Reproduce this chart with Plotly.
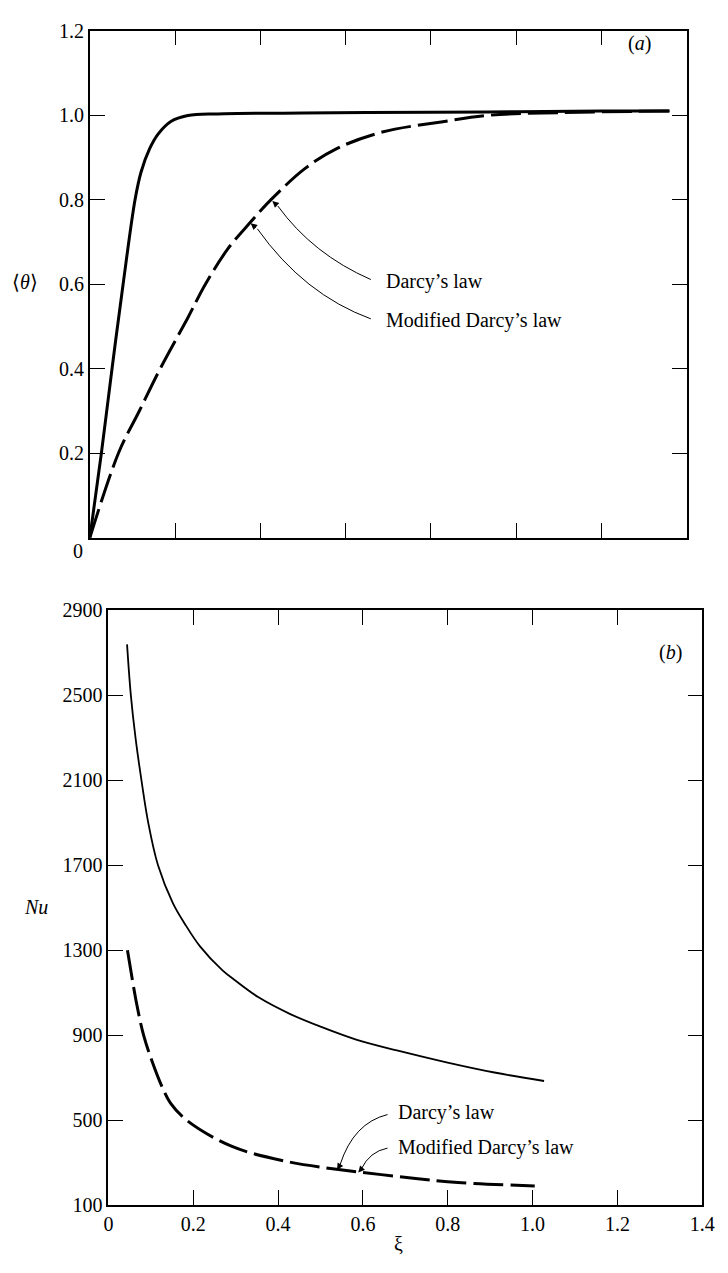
import plotly.graph_objects as go

# ---------- data ----------
# Panel (a): <theta> vs xi
xi_a_steep = [0, 0.027, 0.052, 0.078, 0.106, 0.12, 0.14, 0.16, 0.19, 0.23, 0.3, 0.5, 0.8, 1.0, 1.2, 1.36]
theta_steep = [0, 0.2, 0.4, 0.6, 0.8, 0.865, 0.92, 0.955, 0.985, 0.999, 1.003, 1.005, 1.007, 1.008, 1.01, 1.01]

xi_a_darcy = [0, 0.067, 0.116, 0.165, 0.229, 0.271, 0.324, 0.377, 0.425, 0.505, 0.579, 0.686, 0.824, 0.94, 1.1, 1.36]
theta_darcy = [0, 0.2, 0.3, 0.4, 0.519, 0.6, 0.684, 0.747, 0.8, 0.874, 0.921, 0.96, 0.984, 1.0, 1.006, 1.01]

# Panel (b): Nu vs xi
xi_b_upper = [0.044, 0.053, 0.064, 0.078, 0.094, 0.117, 0.152, 0.18, 0.216, 0.269, 0.30, 0.354, 0.43, 0.5, 0.584, 0.68, 0.797, 0.91, 1.027]
nu_upper = [2740, 2500, 2300, 2100, 1900, 1700, 1522, 1425, 1318, 1205, 1156, 1078, 998, 940, 879, 828, 772, 724, 684]

xi_b_darcy = [0.045, 0.067, 0.083, 0.104, 0.128, 0.146, 0.184, 0.29, 0.418, 0.547, 0.685, 0.824, 1.005]
nu_darcy = [1300, 1044, 900, 771, 650, 581, 500, 377, 306, 266, 234, 206, 190]

xticks = [0, 0.2, 0.4, 0.6, 0.8, 1.0, 1.2, 1.4]
xtick_text = ["0", "0.2", "0.4", "0.6", "0.8", "1.0", "1.2", "1.4"]
theta_ticks = [0.2, 0.4, 0.6, 0.8, 1.0, 1.2]
theta_tick_text = ["0.2", "0.4", "0.6", "0.8", "1.0", "1.2"]
nu_ticks = [100, 500, 900, 1300, 1700, 2100, 2500, 2900]
nu_tick_text = ["100", "500", "900", "1300", "1700", "2100", "2500", "2900"]

FONT = "Liberation Serif"
W, H = 728, 1273

fig = go.Figure()

fig.add_trace(go.Scatter(x=xi_a_steep, y=theta_steep, mode="lines", xaxis="x", yaxis="y",
                         line=dict(color="black", width=3), line_shape="spline", showlegend=False))
fig.add_trace(go.Scatter(x=xi_a_darcy, y=theta_darcy, mode="lines", xaxis="x", yaxis="y",
                         line=dict(color="black", width=3, dash="30px,7px"), line_shape="spline", showlegend=False))
fig.add_trace(go.Scatter(x=xi_b_upper, y=nu_upper, mode="lines", xaxis="x2", yaxis="y2",
                         line=dict(color="black", width=1.8), line_shape="spline", showlegend=False))
fig.add_trace(go.Scatter(x=xi_b_darcy, y=nu_darcy, mode="lines", xaxis="x2", yaxis="y2",
                         line=dict(color="black", width=3, dash="30px,7px"), line_shape="spline", showlegend=False))

TICKSIZE = 20
axis_common = dict(showline=True, linecolor="black", linewidth=1.6, mirror="ticks",
                   ticks="inside", ticklen=15, tickwidth=1.3, tickcolor="black",
                   showgrid=False, zeroline=False,
                   tickfont=dict(family=FONT, size=TICKSIZE, color="black"))

fig.update_layout(
    width=W, height=H,
    margin=dict(l=0, r=0, t=0, b=0),
    paper_bgcolor="white", plot_bgcolor="white",
    xaxis=dict(domain=[87 / W, 699 / W], range=[0, 1.4], anchor="y",
               tickvals=xticks, showticklabels=False, **axis_common),
    yaxis=dict(domain=[1 - 536 / H, 1 - 20 / H], range=[0, 1.2], anchor="x",
               tickvals=theta_ticks, ticktext=theta_tick_text, **axis_common),
    xaxis2=dict(domain=[106 / W, 715 / W], range=[0, 1.4], anchor="y2",
                tickvals=xticks, ticktext=xtick_text, **axis_common),
    yaxis2=dict(domain=[1 - 1215 / H, 1 - 610 / H], range=[100, 2900], anchor="x2",
                tickvals=nu_ticks, ticktext=nu_tick_text, **axis_common),
)

# curved leader lines (quadratic Bezier) in data coordinates
def curve(xref, yref, p0, c, p1):
    fig.add_shape(type="path", xref=xref, yref=yref,
                  path=f"M {p0[0]},{p0[1]} Q {c[0]},{c[1]} {p1[0]},{p1[1]}",
                  line=dict(color="black", width=1))

def head(xref, yref, tip, tail):
    fig.add_annotation(x=tip[0], y=tip[1], ax=tail[0], ay=tail[1], xref=xref, yref=yref,
                       axref=xref, ayref=yref, text="", showarrow=True,
                       arrowhead=2, arrowsize=1.3, arrowwidth=1, arrowcolor="black")

# panel (a)
curve("x", "y", (0.659, 0.611), (0.523, 0.671), (0.441, 0.785))
head("x", "y", (0.428, 0.797), (0.441, 0.785))
curve("x", "y", (0.659, 0.518), (0.502, 0.576), (0.393, 0.731))
head("x", "y", (0.377, 0.744), (0.393, 0.731))
# panel (b)
curve("x2", "y2", (0.658, 526), (0.578, 487), (0.546, 289))
head("x2", "y2", (0.539, 266), (0.546, 289))
curve("x2", "y2", (0.658, 368), (0.616, 352), (0.596, 269))
head("x2", "y2", (0.589, 253), (0.596, 269))

def txt(x, y, s, xref, yref, size=20, xanchor="left", yanchor="middle"):
    fig.add_annotation(x=x, y=y, xref=xref, yref=yref, text=s, showarrow=False,
                       xanchor=xanchor, yanchor=yanchor,
                       font=dict(family=FONT, size=size, color="black"))

txt(0.689, 0.607, "Darcy’s law", "x", "y")
txt(0.689, 0.514, "Modified Darcy’s law", "x", "y")
txt(0.677, 534, "Darcy’s law", "x2", "y2")
txt(0.677, 373, "Modified Darcy’s law", "x2", "y2")
txt(1.29, 1.17, "(<i>a</i>)", "x", "y", xanchor="center")
txt(1.325, 2700, "(<i>b</i>)", "x2", "y2", xanchor="center")

# "0" label of panel (a), placed below the lower-left corner
txt(75 / W, 1 - 550 / H, "0", "paper", "paper", size=TICKSIZE, xanchor="center")

# axis titles
txt(21 / W, 1 - 276 / H, "⟨<i>θ</i>⟩", "paper", "paper", xanchor="center")
txt(32 / W, 1 - 912 / H, "<i>Nu</i>", "paper", "paper", xanchor="center")
txt(403 / W, 1 - 1255 / H, "ξ", "paper", "paper", xanchor="center")

fig.write_html("out.html")
